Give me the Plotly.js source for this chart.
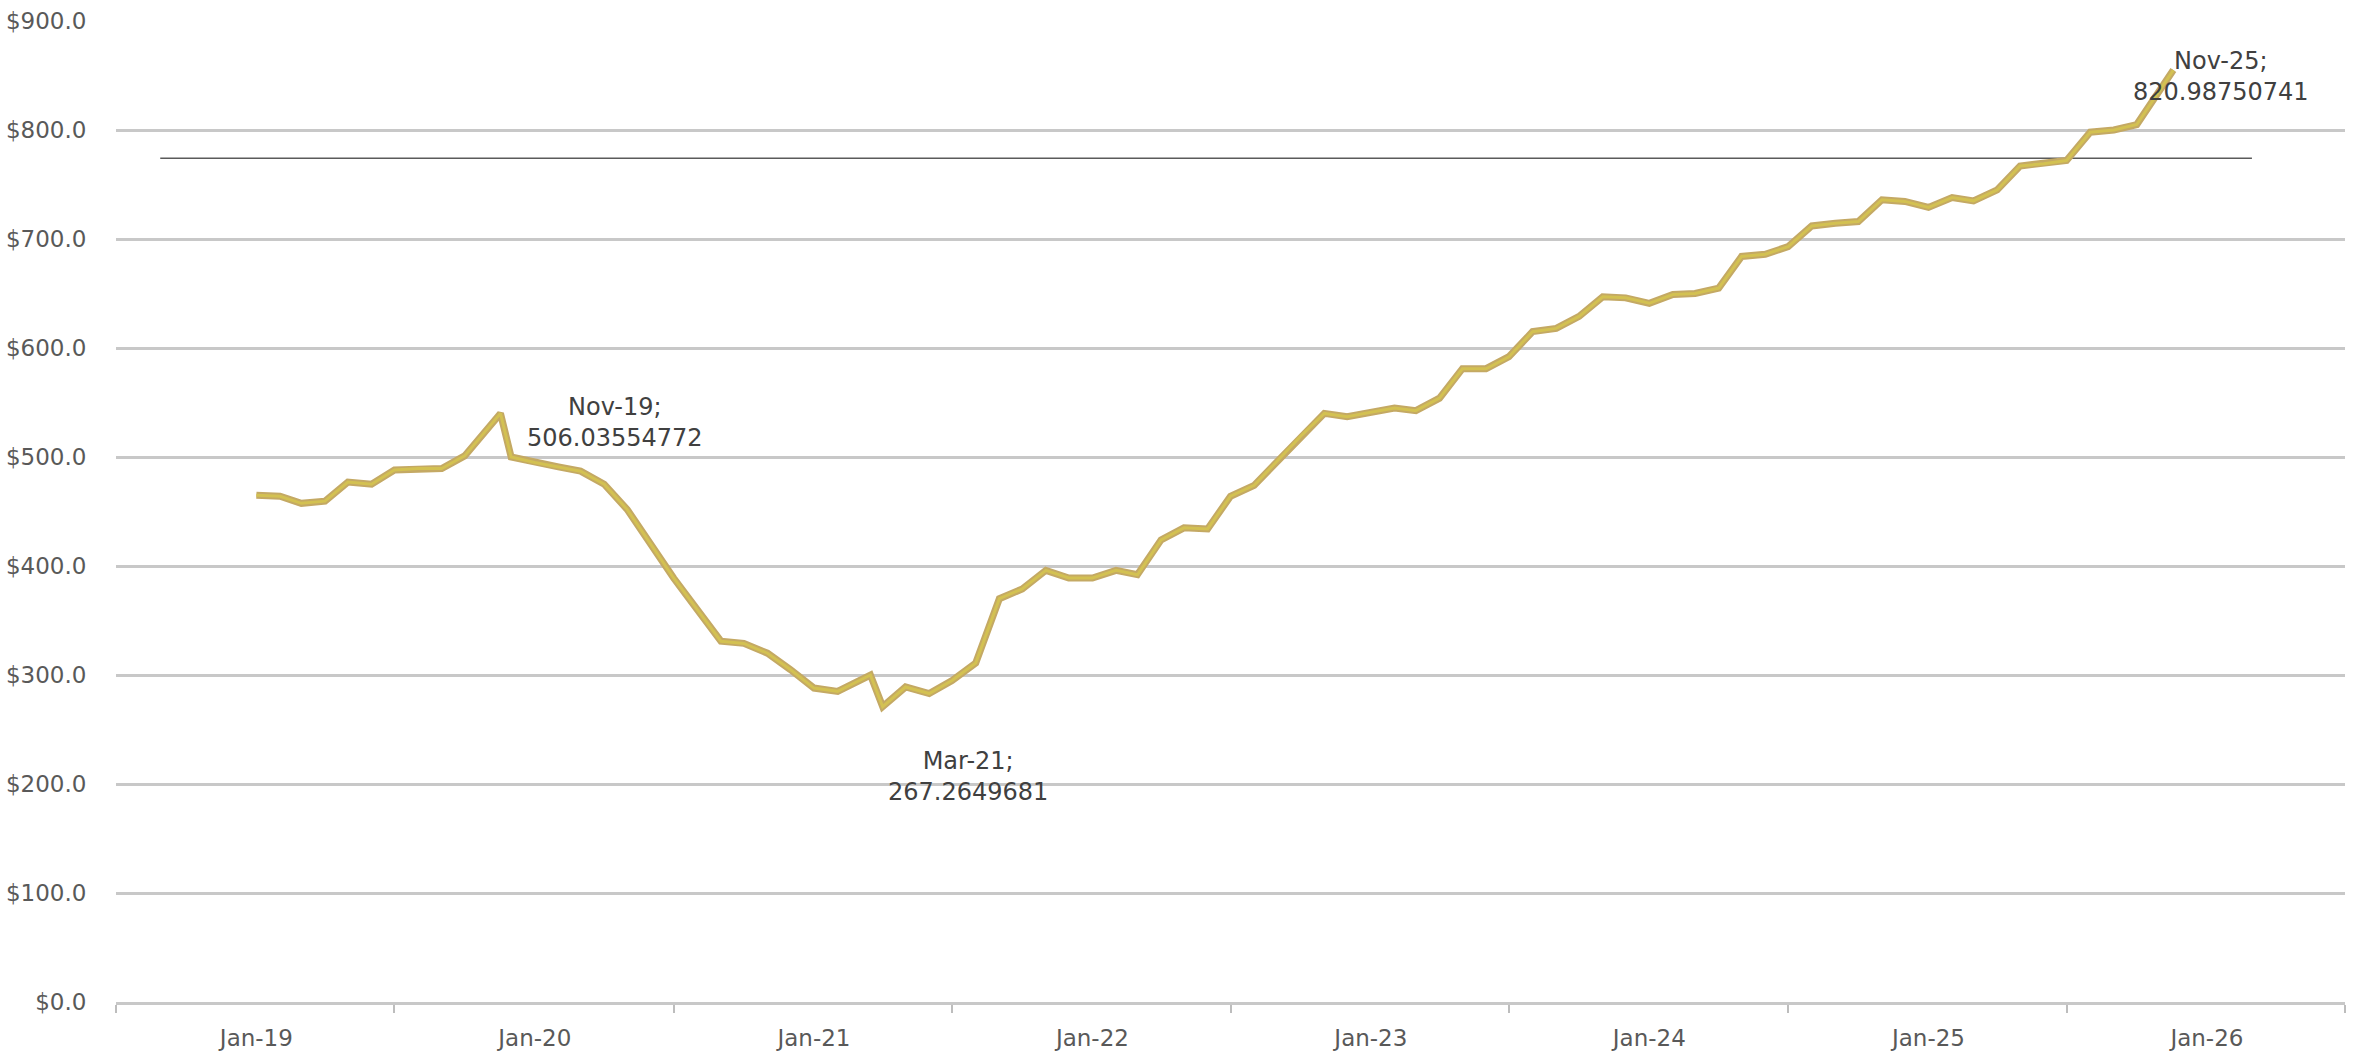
<!DOCTYPE html>
<html>
<head>
<meta charset="utf-8">
<script src="https://cdn.plot.ly/plotly-3.0.1.min.js"></script>
<style>
  html, body { margin: 0; padding: 0; background: #ffffff; }
  #chart { width: 2364px; height: 1054px; }
</style>
</head>
<body>
<div id="chart"></div>
<script>
// ---- data ----
const dates = [
  "2019-01-01","2019-02-01","2019-03-01","2019-04-01","2019-05-01","2019-06-01",
  "2019-07-01","2019-08-01","2019-09-01","2019-10-01","2019-11-17","2019-12-01",
  "2020-01-01","2020-02-01","2020-03-01","2020-04-01","2020-05-01","2020-06-01",
  "2020-07-01","2020-08-01","2020-09-01","2020-10-01","2020-11-01","2020-12-01",
  "2021-01-01","2021-02-01","2021-03-16","2021-04-01","2021-05-01","2021-06-01",
  "2021-07-01","2021-08-01","2021-09-01","2021-10-01","2021-11-01","2021-12-01",
  "2022-01-01","2022-02-01","2022-03-01","2022-04-01","2022-05-01","2022-06-01",
  "2022-07-01","2022-08-01","2022-09-01","2022-10-01","2022-11-01","2022-12-01",
  "2023-01-01","2023-02-01","2023-03-01","2023-04-01","2023-05-01","2023-06-01",
  "2023-07-01","2023-08-01","2023-09-01","2023-10-01","2023-11-01","2023-12-01",
  "2024-01-01","2024-02-01","2024-03-01","2024-04-01","2024-05-01","2024-06-01",
  "2024-07-01","2024-08-01","2024-09-01","2024-10-01","2024-11-01","2024-12-01",
  "2025-01-01","2025-02-01","2025-03-01","2025-04-01","2025-05-01","2025-06-01",
  "2025-07-01","2025-08-01","2025-09-01","2025-10-01","2025-11-18"
];
const values = [
  465, 464, 457.5, 459.5, 477, 475,
  488, 489.5, 489.5, 501, 540, 500,
  495, 491, 487, 475, 452, 420,
  389, 360, 331, 329, 320, 305,
  288, 285, 300, 271, 289, 283,
  295, 311, 370, 379, 396, 389,
  389, 396, 392, 424, 435, 434,
  464, 474, 497, 519, 540, 537,
  541, 545, 542.5, 554, 581, 581,
  592, 615, 618, 629, 647, 646,
  641, 649, 650, 655, 684, 686,
  693, 712, 714.5, 716, 736, 734.5,
  729, 738, 735, 745, 767, 769,
  772, 798, 800, 805, 855
];

// thin reference line
const refDates = ["2018-08-28", "2026-03-01"];
const refValues = [774, 774];

// axis ticks
const xTickDates = ["2019-01-01","2020-01-01","2021-01-01","2022-01-01","2023-01-01","2024-01-01","2025-01-01","2026-01-01"];
const xTickText = ["Jan-19","Jan-20","Jan-21","Jan-22","Jan-23","Jan-24","Jan-25","Jan-26"];
const yTicks = [0, 100, 200, 300, 400, 500, 600, 700, 800, 900];
const yTickText = ["$0.0","$100.0","$200.0","$300.0","$400.0","$500.0","$600.0","$700.0","$800.0","$900.0"];

// labelled points
const labelDates = ["2019-11-17", "2021-04-01", "2025-11-18"];
const labelValues = [540, 271, 855];
const labelTexts = ["Nov-19;<br>506.03554772", "Mar-21;<br>267.2649681", "Nov-25;<br>820.98750741"];
const labelShiftX = [115, 85, 48];
const labelShiftY = [-9, -70, -6];

const FONT = "DejaVu Sans, Verdana, sans-serif";

const traces = [
  {
    x: refDates, y: refValues, type: "scatter", mode: "lines",
    line: { color: "#5a5a5a", width: 1.5 }, hoverinfo: "skip"
  },
  {
    x: dates, y: values, type: "scatter", mode: "lines",
    line: { color: "#C4A964", width: 7 }, hoverinfo: "skip"
  },
  {
    x: dates, y: values, type: "scatter", mode: "lines",
    line: { color: "#D3C152", width: 3 }, hoverinfo: "skip"
  }
];

const annotations = labelDates.map((d, i) => ({
  x: d, y: labelValues[i], xref: "x", yref: "y",
  text: labelTexts[i], showarrow: false,
  xanchor: "center", yanchor: "middle", align: "center",
  xshift: labelShiftX[i], yshift: labelShiftY[i],
  font: { family: FONT, size: 24, color: "#404040" }
}));

const layout = {
  width: 2364, height: 1054,
  margin: { l: 116, r: 19, t: 21, b: 52 },
  paper_bgcolor: "#ffffff", plot_bgcolor: "#ffffff",
  showlegend: false,
  font: { family: FONT, size: 24, color: "#595959" },
  xaxis: {
    type: "date",
    range: ["2018-07-01", "2026-07-01"],
    tickmode: "array", tickvals: xTickDates, ticktext: xTickText,
    ticks: "outside", ticklen: 13, tickcolor: "rgba(0,0,0,0)",
    showgrid: false, zeroline: false,
    showline: true, linecolor: "#C8C8C8", linewidth: 3,
    tickfont: { family: FONT, size: 23, color: "#595959" },
    minor: { tick0: "2018-07-01", dtick: "M12", ticks: "outside", ticklen: 8, tickwidth: 2, tickcolor: "#BDBDBD", showgrid: false }
  },
  yaxis: {
    range: [0, 900],
    tickmode: "array", tickvals: yTicks, ticktext: yTickText,
    ticks: "outside", ticklen: 24, tickcolor: "rgba(0,0,0,0)",
    showgrid: true, gridcolor: "#C8C8C8", gridwidth: 3,
    zeroline: false, showline: false,
    tickfont: { family: FONT, size: 23, color: "#595959" }
  },
  annotations: annotations
};

Plotly.newPlot("chart", traces, layout, { staticPlot: true, displayModeBar: false });
</script>
</body>
</html>
